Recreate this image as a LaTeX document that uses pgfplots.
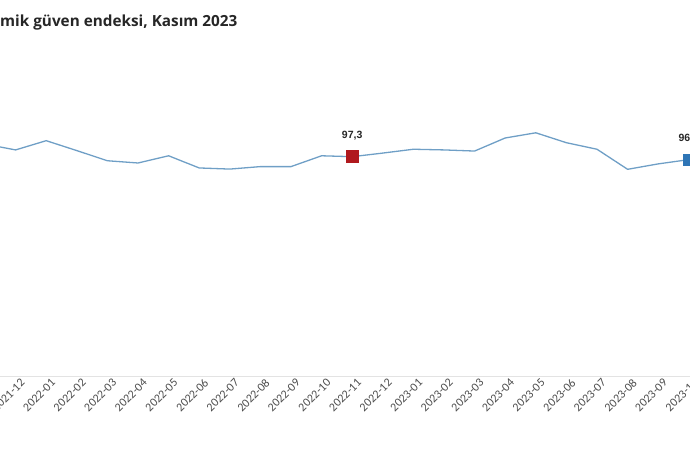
\documentclass[border=0pt]{standalone}
\usepackage{pgfplots}
\pgfplotsset{compat=1.18}
\usepackage{fontspec}
\setmainfont{Carlito}
\newfontfamily\titlefont{Open Sans}
\newfontfamily\valfont{Liberation Sans}
\definecolor{linec}{HTML}{6F9FC6}
\definecolor{redm}{HTML}{B0191E}
\definecolor{bluem}{HTML}{2E75B6}
\definecolor{txt}{HTML}{262626}
\definecolor{tick}{HTML}{4D4D4D}
\definecolor{axc}{HTML}{E3E3E3}
\begin{document}
\begin{tikzpicture}
\path[use as bounding box, clip] (0,0) rectangle (690pt,450pt);
\node[anchor=base west, inner sep=0, text=txt,
  font=\titlefont\bfseries\fontsize{15.3}{18}\selectfont] at (0pt,423pt)
  {mik güven endeksi, Kasım 2023};
\begin{axis}[
    at={(-30.3pt,74pt)}, anchor=south west,
    x=30.6pt, y=2.254pt,
    xmin=-0.5, xmax=23.5, ymin=0, ymax=120,
    axis x line=bottom, axis y line=none,
    x axis line style={axc, line width=1pt, -},
    major tick length=0pt,
    xtick={0,...,23},
    xticklabels={2021-11,2021-12,2022-01,2022-02,2022-03,2022-04,2022-05,
      2022-06,2022-07,2022-08,2022-09,2022-10,2022-11,2022-12,2023-01,
      2023-02,2023-03,2023-04,2023-05,2023-06,2023-07,2023-08,2023-09,2023-10},
    xticklabel style={rotate=45, anchor=north east, text=tick,
      font=\fontsize{12}{14}\selectfont, xshift=5pt, yshift=-1pt},
    clip=false,
    every node near coord/.append style={font=\valfont\bfseries\fontsize{10.5}{12}\selectfont,
      text=txt, anchor=base, inner sep=0pt, yshift=18.5pt},
  ]
\addplot[linec, line width=1.3pt, mark=none] coordinates {
  (0,102.9) (1,100.3) (2,104.4) (3,100.0) (4,95.5) (5,94.5) (6,97.7)
  (7,92.3) (8,91.8) (9,92.9) (10,92.9) (11,97.7) (12,97.3) (13,98.9)
  (14,100.6) (15,100.3) (16,99.8) (17,105.6) (18,107.9) (19,103.5)
  (20,100.6) (21,91.7) (22,94.1) (23,96.0)
};
\addplot[only marks, mark=square*, mark size=6pt, mark options={fill=redm, draw=redm},
  nodes near coords, point meta=explicit symbolic] coordinates {(12,97.3) [97,3]};
\addplot[only marks, mark=square*, mark size=5.3pt, mark options={fill=bluem, draw=bluem},
  nodes near coords, point meta=explicit symbolic] coordinates {(23,96.0) [96,0]};
\end{axis}
\end{tikzpicture}
\end{document}
